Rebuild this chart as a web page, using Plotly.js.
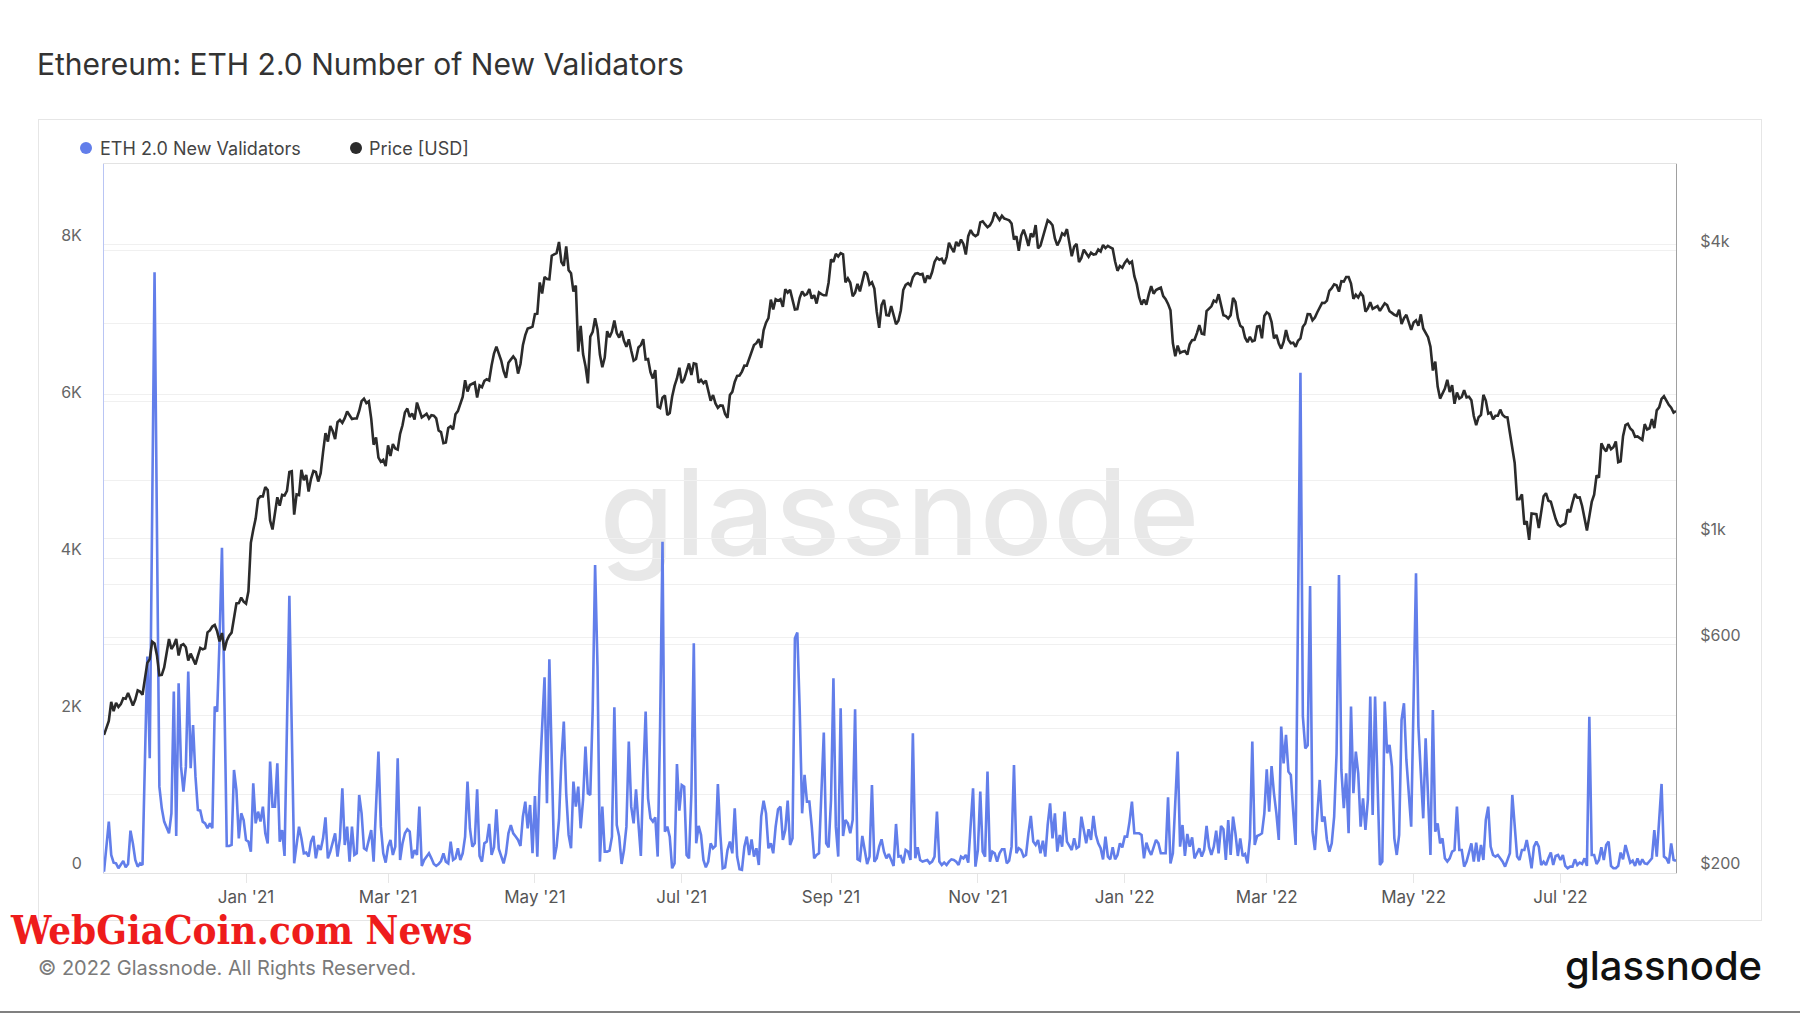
<!DOCTYPE html>
<html>
<head>
<meta charset="utf-8">
<script src="https://cdn.plot.ly/plotly-3.0.1.min.js"></script>
<style>
html,body{margin:0;padding:0;background:#ffffff;}
body{width:1800px;height:1013px;position:relative;overflow:hidden;font-family:Inter,"Open Sans",sans-serif;}
#frame{position:absolute;left:38px;top:119px;width:1722px;height:800px;border:1px solid #e6e6e6;}
#watermark{position:absolute;left:0;top:452px;width:1800px;text-align:center;font-family:Inter,sans-serif;font-size:120px;line-height:120px;font-weight:500;color:#e8e8e8;letter-spacing:1px;}
#bottomline{position:absolute;left:0;top:1011px;width:1800px;height:2px;background:#808080;}
#chart{position:absolute;left:0;top:0;width:1800px;height:1013px;}
</style>
</head>
<body>
<div id="frame"></div>
<div id="watermark">glassnode</div>
<div id="bottomline"></div>
<div id="chart"></div>
<script>
// ---- data ----
const startDate = '2020-11-03';

// ETH price [USD], one value per day from 2020-11-03 to 2022-08-18
const priceUsd = [
// Nov 2020 (from 3rd)
388,402,415,455,435,453,444,450,463,462,475,461,447,460,481,478,471,509,549,559,608,603,569,517,518,537,576,616,
// Dec 2020
587,598,616,569,597,601,592,555,574,560,545,568,590,586,589,636,642,654,659,639,609,634,583,611,626,635,683,731,732,752,737,
// Jan 2021
730,775,979,1042,1100,1208,1225,1224,1281,1262,1090,1044,1130,1219,1171,1233,1230,1257,1377,1382,1121,1236,1232,1391,1324,1357,1253,1332,1383,1377,1315,
// Feb 2021
1369,1515,1660,1594,1718,1677,1614,1750,1769,1744,1784,1843,1815,1777,1782,1782,1847,1937,1960,1919,1935,1781,1570,1626,1475,1446,1459,1417,
// Mar 2021
1565,1488,1575,1541,1533,1655,1724,1835,1869,1795,1826,1772,1924,1855,1791,1806,1823,1782,1810,1806,1782,1681,1669,1582,1587,1702,1716,1691,1819,1846,1919,
// Apr 2021
1977,2142,2028,2093,2108,2118,1971,2089,2072,2135,2152,2139,2300,2436,2519,2432,2355,2237,2167,2331,2365,2403,2363,2212,2316,2535,2662,2747,2757,2773,
// May 2021
2945,2952,3431,3253,3523,3490,3484,3903,3928,3953,4169,3785,3715,4080,3640,3587,3283,3380,2460,2784,2430,2295,2110,2643,2706,2888,2736,2424,2280,2389,2714,
// Jun 2021
2634,2707,2855,2688,2630,2715,2590,2517,2608,2471,2354,2372,2508,2537,2610,2367,2373,2226,2160,2249,1886,1874,1970,1990,1812,1829,1978,2084,2160,2275,
// Jul 2021
2113,2150,2226,2322,2198,2324,2316,2116,2146,2111,2139,2036,1940,1995,1916,1876,1898,1895,1820,1787,1995,2026,2124,2188,2191,2233,2298,2297,2384,2462,2538,
// Aug 2021
2561,2610,2504,2725,2827,2890,3158,3013,3164,3142,3165,3049,3322,3266,3310,3149,3012,3017,3186,3287,3225,3243,3324,3174,3227,3099,3270,3243,3225,3226,3431,
// Sep 2021
3835,3788,3937,3888,3952,3927,3431,3498,3426,3210,3266,3407,3286,3428,3614,3571,3397,3433,3330,2977,2757,3077,3155,2931,2926,3063,2946,2807,2852,3001,
// Oct 2021
3308,3390,3418,3380,3518,3580,3587,3563,3575,3425,3545,3492,3607,3788,3865,3829,3848,3748,3877,4155,4054,3971,4171,4087,4218,4132,3924,4288,4415,4325,4288,
// Nov 2021
4324,4584,4607,4537,4476,4518,4611,4807,4732,4636,4730,4667,4649,4626,4557,4217,4287,3997,4300,4424,4274,4089,4341,4270,4523,4044,4097,4294,4445,4631,
// Dec 2021
4587,4519,4240,4101,4198,4347,4310,4436,4111,3894,4077,4133,3784,3862,4018,3960,3881,3961,3923,3934,4022,3982,4109,4047,4092,4064,4037,3796,3629,3714,3683,
// Jan 2022
3769,3829,3762,3795,3537,3403,3196,3083,3158,3082,3239,3372,3250,3308,3328,3347,3212,3164,3094,3001,2562,2405,2531,2443,2458,2467,2423,2547,2599,2603,2688,
// Feb 2022
2792,2681,2673,2990,3021,3058,3143,3124,3242,3070,2930,2918,2883,2930,3183,3122,2891,2784,2760,2629,2573,2640,2584,2597,2774,2781,2622,2920,
// Mar 2022
2972,2947,2835,2620,2665,2556,2494,2576,2727,2605,2560,2567,2517,2590,2620,2772,2815,2946,2945,2859,2898,2972,3030,3109,3107,3144,3296,3336,3399,3386,3283,
// Apr 2022
3450,3444,3522,3521,3411,3172,3233,3191,3262,3212,2981,3030,3118,3020,3040,3062,2992,3057,3104,3078,2987,2963,2936,2923,3009,2809,2888,2936,2815,2730,
// May 2022
2829,2859,2784,2942,2749,2695,2636,2518,2245,2344,2078,1961,2014,2057,2146,2024,2091,1913,2019,1961,1976,2043,1973,1979,1945,1803,1725,1793,1812,1997,1942,
// Jun 2022
1824,1834,1775,1805,1806,1859,1812,1795,1791,1662,1531,1437,1208,1208,1236,1069,1086,993,1127,1127,1124,1051,1144,1225,1243,1199,1193,1144,1099,1068,
// Jul 2022
1059,1067,1075,1150,1134,1187,1238,1217,1218,1169,1098,1039,1112,1192,1234,1355,1340,1581,1543,1521,1574,1537,1552,1595,1443,1449,1636,1725,1737,1698,1680,
// Aug 2022 (to 18th)
1631,1634,1619,1607,1734,1690,1700,1776,1701,1853,1880,1958,1983,1936,1903,1877,1833,1847
];

// ETH 2.0 new validators: [day since startDate, count]
const validatorPoints = [
[0,10],[2,647],[3,223],[4,125],[5,116],[6,53],[8,146],[9,65],[10,108],[11,533],[12,371],[13,159],[14,74],[15,116],[16,95],[18,2751],[19,1455],[21,7650],[23,1094],[24,818],[25,648],[27,499],[28,754],[29,2305],[30,465],[31,2412],[32,1349],[33,1030],[34,1349],[35,2560],[36,1328],[37,1880],[38,1221],[39,796],[40,788],[41,648],[42,626],[43,563],[44,626],[45,563],[46,2114],[47,2050],[48,2964],[49,4140],[51,337],[52,337],[53,350],[54,1307],[55,1052],[56,435],[57,754],[58,669],[59,414],[60,393],[61,265],[62,1136],[63,626],[64,775],[65,650],[66,839],[67,499],[68,371],[69,1413],[70,839],[71,839],[72,1391],[73,393],[74,541],[75,210],[77,3527],[79,116],[80,329],[81,584],[82,435],[83,244],[84,253],[85,202],[86,393],[87,465],[88,180],[89,350],[90,286],[91,435],[92,703],[93,180],[94,265],[95,371],[96,499],[97,202],[98,435],[99,1073],[100,350],[101,584],[102,138],[103,584],[104,223],[105,244],[106,988],[107,754],[108,308],[109,286],[110,435],[111,541],[112,138],[114,1540],[115,584],[116,244],[117,125],[118,329],[119,414],[120,223],[121,329],[122,1455],[123,159],[124,371],[125,499],[126,550],[127,520],[128,180],[129,286],[130,223],[131,839],[132,83],[133,159],[134,202],[135,244],[136,180],[137,108],[138,83],[139,108],[140,146],[141,244],[142,138],[143,116],[144,393],[145,159],[146,180],[147,308],[148,159],[149,244],[150,457],[151,1158],[152,563],[153,329],[154,371],[155,1060],[156,210],[157,138],[158,371],[159,393],[160,618],[161,223],[162,320],[163,805],[164,300],
[166,116],[167,244],[168,499],[169,605],[170,499],[171,457],[172,414],[173,337],[174,711],[175,903],[176,563],[177,860],[178,244],[179,975],[180,202],[181,1221],[182,1859],[183,2488],[184,881],[185,2717],[186,1434],[187,167],[188,329],[189,669],[190,1434],[191,1923],[192,1009],[193,478],[194,308],[195,1158],[196,839],[197,1094],[198,563],[199,924],[200,1604],[201,1009],[202,988],[203,2072],[204,3920],[205,2624],[206,138],[207,839],[208,265],[209,265],[210,278],[211,457],[212,2106],[213,605],[214,457],[215,108],[216,286],[217,584],[218,1668],[219,839],[220,626],[221,1060],[222,626],[223,210],[224,1221],[225,2050],[226,945],[227,690],[228,648],[229,703],[230,202],[231,1859],[232,4216],[233,520],[234,584],[235,457],[236,53],[237,116],[238,1383],[239,788],[240,1115],[241,1094],[242,223],[243,180],[244,1009],[245,2921],[246,371],[247,593],[248,478],[249,159],[250,65],[251,138],[252,371],[253,308],[254,337],[255,1128],[256,499],[257,53],[258,65],[259,286],[260,393],[261,244],[262,818],[263,202],[264,40],[265,32],[266,329],[267,457],[268,223],[269,422],[270,202],[271,308],[272,95],[273,711],[274,915],[275,754],[276,308],[277,371],[278,244],[279,584],[280,805],[281,839],[282,414],[283,541],[284,915],[285,350],[286,435],[287,2985],[288,3058],[289,2072],[290,754],[291,1243],[292,903],[293,903],[294,584],[295,180],[296,223],[297,244],[298,1009],[299,1783],[300,371],[301,320],[302,924],[303,2475],[304,584],[305,202],[306,2093],[307,465],[308,669],[309,626],[310,499],[311,669],[312,2080],[313,167],[314,150],[315,465],[316,286],[317,108],[318,202],[319,1115],[320,138],[321,180],[322,329],[323,422],[324,265],[325,180],[326,235],[327,167],[328,83],[329,618],[330,202],
[331,210],[332,116],[333,286],[334,265],[335,159],[336,1774],[337,180],[338,320],[339,159],[340,138],[341,150],[342,159],[343,116],[344,138],[345,202],[346,775],[347,138],[348,95],[349,125],[350,95],[351,138],[352,167],[353,159],[354,138],[355,95],[356,202],[357,180],[358,223],[359,125],[360,626],[361,1073],[362,74],[363,286],[364,1030],[365,265],[366,202],[367,1285],[368,138],[369,265],[370,244],[371,138],[372,244],[373,295],[374,295],[375,116],[376,150],[377,329],[378,1370],[379,244],[380,308],[381,286],[382,202],[383,223],[384,499],[385,720],[386,393],[387,350],[388,414],[389,244],[390,405],[391,202],[392,605],[393,881],[394,435],[395,754],[396,265],[397,478],[398,329],[399,775],[400,393],[401,329],[402,286],[403,435],[404,308],[405,329],[406,711],[407,541],[408,371],[409,550],[410,414],[411,720],[412,478],[413,371],[414,308],[415,167],[416,457],[417,202],[418,167],[419,320],[420,167],[421,223],[422,371],[423,320],[424,457],[425,457],[426,648],[427,903],[428,499],[429,499],[430,499],[431,478],[432,180],[433,380],[434,286],[435,223],[436,320],[437,414],[438,371],[439,244],[440,244],[441,244],[442,958],[443,116],[444,244],[445,924],[446,1540],[447,329],[448,605],[449,210],[450,490],[451,329],[452,448],[453,180],[454,244],[455,308],[456,202],[457,286],[458,593],[459,329],[460,223],[461,329],[462,533],[463,244],[464,593],[465,550],[466,159],[467,669],[468,223],[469,711],[470,499],[471,210],[472,435],[473,210],[474,235],[475,116],[476,435],[477,1668],[478,350],[479,465],[480,478],[481,499],[482,754],[483,1315],[484,775],[485,1357],[486,1009],[487,754],[488,414],[489,1859],[490,1391],[491,1753],[492,1285],[493,1243],[494,775],[495,350],[497,6370],
[498,1990],[499,1580],[500,1620],[501,3650],[502,520],[503,286],[505,1179],[506,648],[507,711],[508,414],[509,265],[510,371],[511,711],[512,1519],[513,3793],[514,1307],[515,818],[516,1264],[517,499],[518,2114],[519,1009],[520,1540],[521,1264],[522,584],[523,945],[524,541],[525,924],[526,2242],[527,733],[528,2242],[529,1221],[530,95],[531,138],[532,2178],[533,1519],[534,1625],[535,1349],[536,435],[537,223],[538,478],[539,1944],[540,2157],[541,1434],[542,1009],[543,584],[545,3814],[546,1859],[547,1264],[548,690],[549,1710],[551,223],[552,2072],[553,520],[554,626],[555,371],[556,435],[557,180],[558,138],[559,180],[560,265],[561,286],[562,839],[563,286],[564,286],[565,74],[566,138],[567,265],[568,371],[569,138],[570,380],[571,138],[572,350],[573,159],[574,669],[575,839],[576,329],[577,223],[578,202],[579,223],[580,180],[581,138],[582,74],[583,159],[584,244],[585,988],[586,584],[587,202],[588,159],[589,286],[590,286],[591,414],[592,244],[593,53],[594,329],[595,393],[596,329],[597,95],[598,138],[599,95],[600,180],[601,253],[602,95],[603,210],[604,223],[605,159],[606,223],[607,83],[608,53],[609,74],[610,74],[611,167],[612,95],[613,125],[614,108],[615,180],[616,83],[617,1986],[618,223],[619,223],[620,108],[621,159],[622,320],[623,159],[624,350],[625,393],[626,83],[627,53],[628,53],[629,83],[630,253],[631,167],[632,350],[633,244],[634,125],[635,150],[636,83],[637,180],[638,95],[639,167],[640,116],[641,108],[642,138],[643,180],[644,541],[645,202],[647,1128],[648,202],[649,180],[650,116],[651,371],[652,159],[653,150]
];

// axis ticks
const xTickVals = ['2021-01-01','2021-03-01','2021-05-01','2021-07-01','2021-09-01','2021-11-01','2022-01-01','2022-03-01','2022-05-01','2022-07-01'];
const xTickText = ["Jan '21","Mar '21","May '21","Jul '21","Sep '21","Nov '21","Jan '22","Mar '22","May '22","Jul '22"];
const yLeftTickVals = [0,1000,2000,3000,4000,5000,6000,7000,8000];
const yLeftTickText = ['0','','2K','','4K','','6K','','8K'];
const yRightTickVals = [200,400,600,800,1000,2000,4000];
const yRightTickText = ['$200','','$600','','$1k','','$4k'];

// ---- helpers ----
const startMs = Date.parse(startDate + 'T00:00:00Z');
function dayToDate(d){ return new Date(startMs + d*86400000).toISOString().slice(0,10); }

const priceX = priceUsd.map((_, i) => dayToDate(i));
const valX = validatorPoints.map(p => dayToDate(p[0]));
const valY = validatorPoints.map(p => p[1]);

const BLUE = '#627eea';
const BLACK = '#2b2b2b';

const traces = [
  {x: valX, y: valY, type:'scatter', mode:'lines', name:'ETH 2.0 New Validators',
   line:{color:BLUE, width:2.6}, yaxis:'y', hoverinfo:'skip'},
  {x: priceX, y: priceUsd, type:'scatter', mode:'lines', name:'Price [USD]',
   line:{color:BLACK, width:2.6}, yaxis:'y2', hoverinfo:'skip'}
];

// plot area: x 104..1676, y 164..873
const L = 104, R = 1676, T = 164, B = 873;
const PW = R - L, PH = B - T;
const px = x => (x - L) / PW;
const py = y => (B - y) / PH;

const layout = {
  width:1800, height:1013,
  margin:{l:L, r:1800-R, t:T, b:1013-B, pad:0},
  paper_bgcolor:'rgba(0,0,0,0)', plot_bgcolor:'rgba(0,0,0,0)',
  font:{family:'Inter, "Open Sans", sans-serif', color:'#555'},
  showlegend:false,
  title:{text:'Ethereum: ETH 2.0 Number of New Validators', x:37/1800, xref:'container', xanchor:'left',
         y:1-64/1013, yref:'container', yanchor:'middle', font:{size:30, color:'#333', weight:400}},
  xaxis:{type:'date', range:[dayToDate(0), dayToDate(653)], tickvals:xTickVals, ticktext:xTickText,
         showgrid:false, zeroline:false, showline:true, linecolor:'#e3e3e3', linewidth:1, mirror:true,
         ticks:'outside', ticklen:9, tickcolor:'#e6e6e6', tickwidth:1,
         tickfont:{size:17, color:'#555'}, fixedrange:true},
  yaxis:{range:[-7, 9031], tickvals:yLeftTickVals, ticktext:yLeftTickText,
         showgrid:true, gridcolor:'#f0f0f0', gridwidth:1, zeroline:false,
         showline:true, linecolor:'#b9c5f4', linewidth:1, ticks:'',
         tickfont:{size:16, color:'#666'}, ticklabelstandoff:18, ticklabelshift:-9, fixedrange:true},
  yaxis2:{type:'log', overlaying:'y', side:'right', range:[2.300, 3.7832],
          tickvals:yRightTickVals, ticktext:yRightTickText,
          showgrid:true, gridcolor:'#f0f0f0', gridwidth:1, zeroline:false,
          showline:true, linecolor:'#a0a0a0', linewidth:1, ticks:'',
          tickfont:{size:16, color:'#666'}, ticklabelstandoff:20, ticklabelshift:-9, fixedrange:true},
  shapes:[
    {type:'circle', xref:'paper', yref:'paper', xsizemode:'pixel', ysizemode:'pixel',
     xanchor:px(86), yanchor:py(148), x0:-6, x1:6, y0:-6, y1:6, fillcolor:BLUE, line:{width:0}},
    {type:'circle', xref:'paper', yref:'paper', xsizemode:'pixel', ysizemode:'pixel',
     xanchor:px(356), yanchor:py(148), x0:-6, x1:6, y0:-6, y1:6, fillcolor:BLACK, line:{width:0}}
  ],
  annotations:[
    {text:'ETH 2.0 New Validators', xref:'paper', yref:'paper', x:px(98), y:py(148), xanchor:'left', yanchor:'middle',
     showarrow:false, font:{size:18, color:'#444'}},
    {text:'Price [USD]', xref:'paper', yref:'paper', x:px(367), y:py(148), xanchor:'left', yanchor:'middle',
     showarrow:false, font:{size:18, color:'#444'}},
    {text:'© 2022 Glassnode. All Rights Reserved.', xref:'paper', yref:'paper', x:px(36), y:py(968),
     xanchor:'left', yanchor:'middle', showarrow:false, font:{size:20, color:'#7a7a7a'}},
    {text:'glassnode', xref:'paper', yref:'paper', x:px(1764), y:py(965),
     xanchor:'right', yanchor:'middle', showarrow:false, font:{size:40, color:'#111', weight:500}},
    {text:'WebGiaCoin.com News', xref:'paper', yref:'paper', x:px(8), y:py(929),
     xanchor:'left', yanchor:'middle', showarrow:false,
     font:{size:40, color:'#ee1c1c', weight:700, family:'"DejaVu Serif Condensed", "DejaVu Serif", serif'}}
  ]
};

Plotly.newPlot('chart', traces, layout, {staticPlot:true, displayModeBar:false});
</script>
</body>
</html>
